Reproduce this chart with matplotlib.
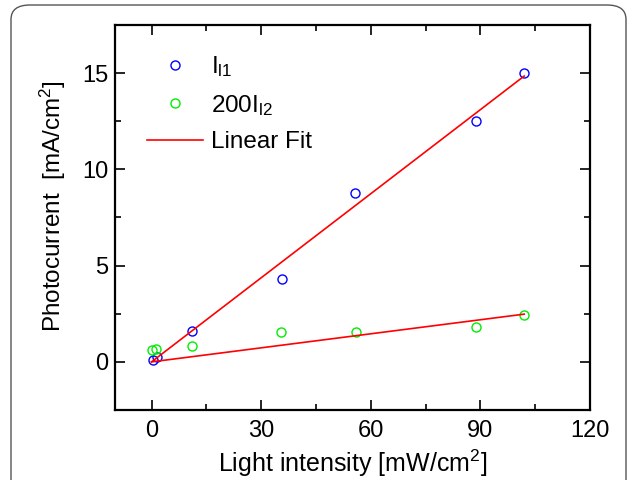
import matplotlib
matplotlib.use("Agg")
import matplotlib.pyplot as plt
from matplotlib.patches import FancyBboxPatch
from matplotlib.ticker import MultipleLocator

plt.rcParams['font.family'] = ['Liberation Sans', 'DejaVu Sans']
plt.rcParams['mathtext.fontset'] = 'custom'
plt.rcParams['mathtext.rm'] = 'Liberation Sans'
plt.rcParams['mathtext.it'] = 'Liberation Sans'

# data
x_l1 = [0.3, 1.4, 11, 35.8, 55.8, 88.8, 102]
y_l1 = [0.1, 0.26, 1.6, 4.3, 8.76, 12.5, 15.0]

x_l2 = [0.0, 1.3, 11.2, 35.5, 56, 88.8, 102]
y_l2 = [0.6, 0.67, 0.83, 1.55, 1.55, 1.8, 2.43]

fit_x = [0, 102]
fit1_y = [0.0, 14.85]
fit2_y = [0.0, 2.48]

fig = plt.figure(figsize=(6.35, 4.8), dpi=100)

# rounded frame round the figure
border = FancyBboxPatch((11/635, -0.1), 615/635, 1.0 - 5/480 + 0.1,
                        boxstyle="round,pad=0,rounding_size=0.03",
                        transform=fig.transFigure, fill=False,
                        edgecolor='#555555', linewidth=1.0)
fig.patches.append(border)

ax = fig.add_axes([115/635, 1 - 410/480, 475/635, 385/480])

ax.plot(x_l1, y_l1, 'o', mfc='none', mec='blue', ms=6.5, mew=1.0, label=r'I$_{\rm l1}$')
ax.plot(x_l2, y_l2, 'o', mfc='none', mec='#00ee00', ms=6.5, mew=1.0, label=r'200I$_{\rm l2}$')
ax.plot(fit_x, fit1_y, color='red', lw=1.2, label='Linear Fit')
ax.plot(fit_x, fit2_y, color='red', lw=1.2)

ax.set_xlim(-10, 120)
ax.set_ylim(-2.5, 17.5)
ax.xaxis.set_major_locator(MultipleLocator(30))
ax.xaxis.set_minor_locator(MultipleLocator(15))
ax.yaxis.set_major_locator(MultipleLocator(5))
ax.yaxis.set_minor_locator(MultipleLocator(2.5))

ax.tick_params(which='both', direction='in', top=True, right=True, width=1.2)
ax.tick_params(which='major', length=7, labelsize=17)
ax.tick_params(which='minor', length=4)
ax.tick_params(axis='x', pad=7)
ax.tick_params(axis='y', pad=5)
for s in ax.spines.values():
    s.set_linewidth(1.6)

ax.set_xlabel('Light intensity [mW/cm$^2$]', fontsize=18, labelpad=4)
ax.set_ylabel('Photocurrent  [mA/cm$^2$]', fontsize=17.5)
ax.yaxis.set_label_coords(-0.10, 0.53)

ax.legend(loc='upper left', bbox_to_anchor=(0.021, 0.98), frameon=False,
          fontsize=17.5, handlelength=2.3, handletextpad=0.35, labelspacing=0.55)

fig.savefig('out.png', dpi=100)
